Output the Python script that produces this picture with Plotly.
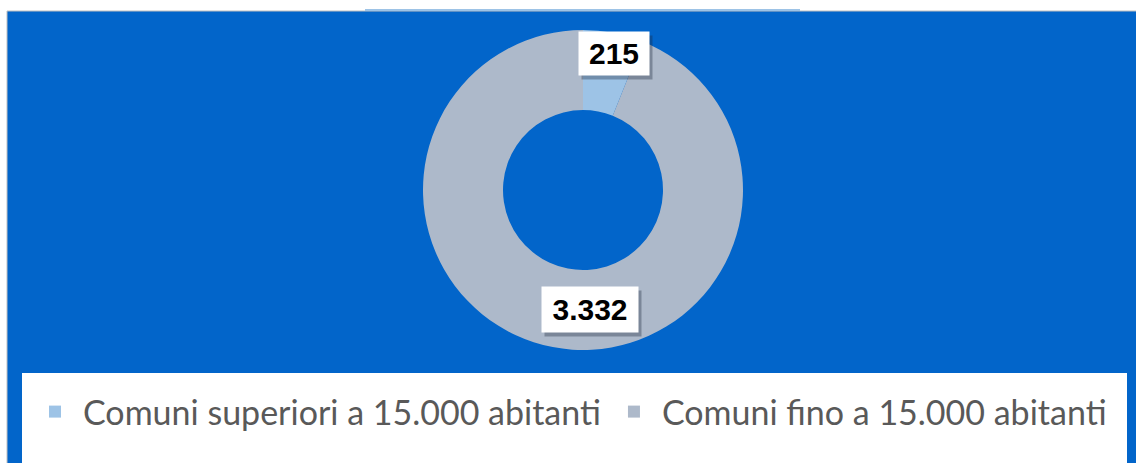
import plotly.graph_objects as go

categories = ["Comuni superiori a 15.000 abitanti", "Comuni fino a 15.000 abitanti"]
values = [215, 3332]
value_labels = ["215", "3.332"]
colors = ["#9DC3E6", "#ADB9CA"]

W, H = 1136, 463
cx, cy, R = 583, 190, 160

def px(x):
    return x / W

def py(y):
    return 1 - y / H

fig = go.Figure()
fig.add_trace(go.Pie(
    labels=categories, values=values, hole=0.5, sort=False, direction="clockwise",
    rotation=0, textinfo="none", hoverinfo="label+value",
    marker=dict(colors=colors, line=dict(width=0)),
    domain=dict(x=[px(cx - R), px(cx + R)], y=[py(cy + R), py(cy - R)]),
    showlegend=True,
))

shapes = [
    # outer chart border
    dict(type="rect", xref="paper", yref="paper", x0=px(7), x1=px(W + 2), y0=py(H + 2), y1=py(11),
         line=dict(color="#BFBFBF", width=1), fillcolor="#0265CA", layer="below"),
    # light line at top
    dict(type="line", xref="paper", yref="paper", x0=px(365), x1=px(800), y0=py(10), y1=py(10),
         line=dict(color="#9DC3E6", width=2), layer="below"),
    # legend white box
    dict(type="rect", xref="paper", yref="paper", x0=px(22), x1=px(1127), y0=py(H + 2), y1=py(373),
         line=dict(width=0), fillcolor="white", layer="below"),
]

label_pos = [(614, 53.5), (590, 309.5)]
label_size = [(70, 43), (96, 45)]
annotations = []
for (lx, ly), (bw, bh), txt in zip(label_pos, label_size, value_labels):
    # shadow
    annotations.append(dict(x=px(lx), y=py(ly), xref="paper", yref="paper", text=" ", showarrow=False,
                            xanchor="center", yanchor="middle", width=bw, height=bh, borderpad=0,
                            font=dict(family="Liberation Sans", size=30, color="rgba(0,0,0,0)"),
                            bgcolor="rgba(30,40,60,0.35)", xshift=3, yshift=-4))
    annotations.append(dict(x=px(lx), y=py(ly), xref="paper", yref="paper", text="<b>%s</b>" % txt,
                            showarrow=False, xanchor="center", yanchor="middle", width=bw, height=bh,
                            borderpad=0, valign="middle", align="center",
                            font=dict(family="Liberation Sans", size=30, color="black"),
                            bgcolor="white"))

fig.update_layout(
    width=W, height=H, margin=dict(l=0, r=0, t=0, b=0),
    paper_bgcolor="white", plot_bgcolor="white",
    shapes=shapes, annotations=annotations,
    legend=dict(orientation="h", x=px(27), xanchor="left", y=py(412), yanchor="middle",
                font=dict(family="Lato", size=34, color="#595959"), bgcolor="rgba(0,0,0,0)",
                itemsizing="constant", itemwidth=46),
)

fig.write_html("out.html", config={"displayModeBar": False},
               post_script="document.body.style.margin='0px';document.body.style.overflow='hidden';")
